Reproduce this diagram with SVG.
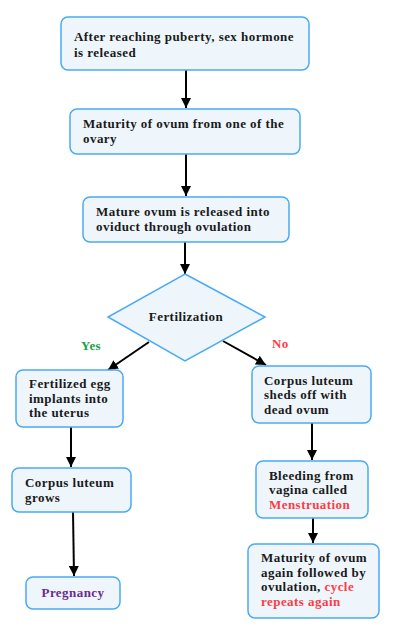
<svg xmlns="http://www.w3.org/2000/svg" width="400" height="632" viewBox="0 0 400 632">
<style>
.box{fill:#eef6fc;stroke:#4aaaf2;stroke-width:1.5}
.t{font-family:"Liberation Serif","DejaVu Serif",serif;font-weight:bold;font-size:13px;letter-spacing:0.45px;fill:#1a1a1a}
.red{fill:#ff3b45}
.ln{stroke:#000;stroke-width:2;fill:none;marker-end:url(#ah)}
</style>
<defs>
<marker id="ah" viewBox="0 0 10 10" refX="10" refY="5" markerWidth="5" markerHeight="5" markerUnits="strokeWidth" orient="auto">
<path d="M0,0 L10,5 L0,10 z" fill="#000"/>
</marker>
</defs>
<rect width="400" height="632" fill="#fff"/>
<g id="connectors">
<line class="ln" x1="186" y1="70" x2="186" y2="108"/>
<line class="ln" x1="186" y1="154" x2="186" y2="196"/>
<line class="ln" x1="185" y1="242" x2="185" y2="274"/>
<line class="ln" x1="149" y1="342" x2="108" y2="370"/>
<line class="ln" x1="223" y1="341" x2="266" y2="365"/>
<line class="ln" x1="71" y1="427" x2="71" y2="467"/>
<line class="ln" x1="73" y1="512" x2="74" y2="576"/>
<line class="ln" x1="312" y1="423" x2="312" y2="460"/>
<line class="ln" x1="313" y1="518" x2="313" y2="543"/>
</g>
<g id="n1"><rect class="box" x="61" y="17" width="248" height="53" rx="7"/>
<text class="t" x="74" y="41">After reaching puberty, sex hormone</text>
<text class="t" x="74" y="57">is released</text></g>
<g id="n2"><rect class="box" x="70" y="109" width="230" height="45" rx="7"/>
<text class="t" x="83" y="128">Maturity of ovum from one of the</text>
<text class="t" x="83" y="143">ovary</text></g>
<g id="n3"><rect class="box" x="83" y="197" width="206" height="45" rx="7"/>
<text class="t" x="96" y="216">Mature ovum is released into</text>
<text class="t" x="96" y="231">oviduct through ovulation</text></g>
<g id="n4"><polygon points="185,274 265,317 185,361 108,317" fill="#eef6fc" stroke="#4aaaf2" stroke-width="1.5"/>
<text class="t" x="186" y="321" text-anchor="middle">Fertilization</text></g>
<text class="t" x="81" y="350" style="fill:#1aa04a">Yes</text>
<text class="t red" x="272" y="348">No</text>
<g id="n5"><rect class="box" x="16" y="370" width="107" height="57" rx="7"/>
<text class="t" x="29" y="388">Fertilized egg</text>
<text class="t" x="29" y="402.5">implants into</text>
<text class="t" x="29" y="417">the uterus</text></g>
<g id="n6"><rect class="box" x="12" y="468" width="119" height="44" rx="7"/>
<text class="t" x="25" y="487">Corpus luteum</text>
<text class="t" x="25" y="501.5">grows</text></g>
<g id="n7"><rect class="box" x="26" y="577" width="94" height="32" rx="7"/>
<text class="t" x="73" y="597" text-anchor="middle" style="fill:#6a2a8f">Pregnancy</text></g>
<g id="n8"><rect class="box" x="252" y="366" width="119" height="57" rx="7"/>
<text class="t" x="264" y="384.5">Corpus luteum</text>
<text class="t" x="264" y="399">sheds off with</text>
<text class="t" x="264" y="413.5">dead ovum</text></g>
<g id="n9"><rect class="box" x="256" y="461" width="112" height="57" rx="7"/>
<text class="t" x="269" y="479.5">Bleeding from</text>
<text class="t" x="269" y="494">vagina called</text>
<text class="t red" x="269" y="508.5">Menstruation</text></g>
<g id="n10"><rect class="box" x="248" y="544" width="131" height="74" rx="7"/>
<text class="t" x="261" y="562">Maturity of ovum</text>
<text class="t" x="261" y="576.5">again followed by</text>
<text class="t" x="261" y="591">ovulation, <tspan class="red">cycle</tspan></text>
<text class="t red" x="261" y="605.5">repeats again</text></g>
</svg>
